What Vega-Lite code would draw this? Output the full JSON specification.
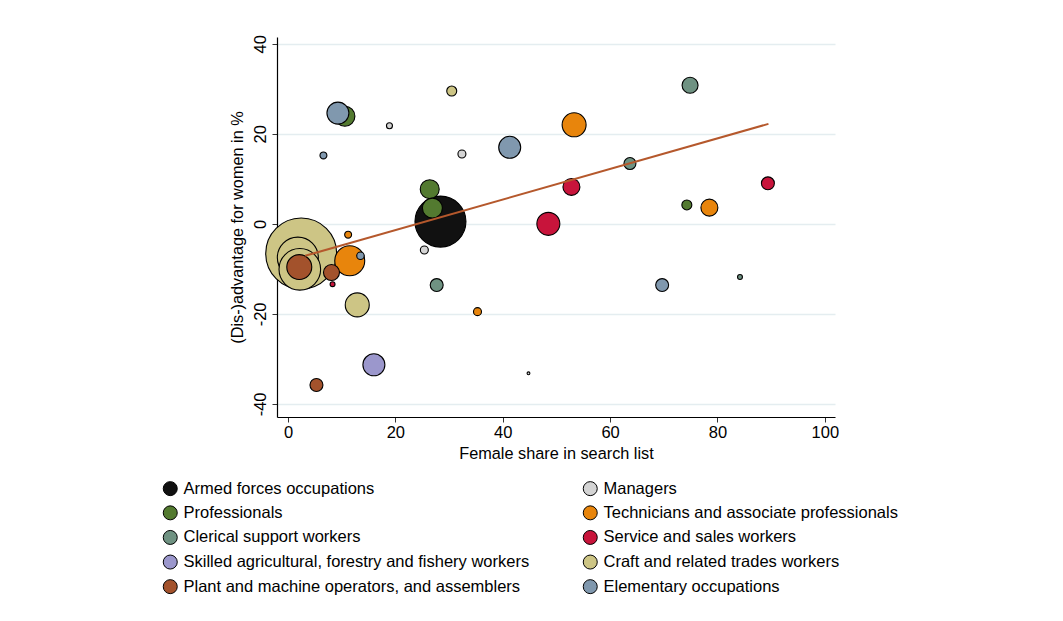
{
  "$schema": "https://vega.github.io/schema/vega-lite/v6.json",
  "autosize": {"type": "none"},
  "padding": {"left": 277, "top": 37, "right": 228, "bottom": 204},
  "width": 558,
  "height": 380,
  "background": "white",
  "config": {
    "font": "Liberation Sans",
    "view": {"stroke": null},
    "axis": {"labelFont": "Liberation Sans", "titleFont": "Liberation Sans", "labelFontSize": 16.5, "titleFontSize": 16.3, "titleFontWeight": "normal", "labelColor": "#000000", "titleColor": "#000000", "domainColor": "#000000", "tickColor": "#333333", "tickSize": 5, "domainWidth": 1.2}
  },
  "layer": [
    {
      "data": {"values": [
        {"occ": "Craft and related trades workers", "x": 2.46, "y": -6.6, "n": 1260},
        {"occ": "Armed forces occupations", "x": 28.4, "y": 0.5, "n": 650},
        {"occ": "Craft and related trades workers", "x": 1.83, "y": -7.5, "n": 420},
        {"occ": "Craft and related trades workers", "x": 2.2, "y": -10.1, "n": 433},
        {"occ": "Technicians and associate professionals", "x": 11.5, "y": -8.2, "n": 225},
        {"occ": "Craft and related trades workers", "x": 12.9, "y": -18.0, "n": 144},
        {"occ": "Plant and machine operators, and assemblers", "x": 2.1, "y": -9.6, "n": 156},
        {"occ": "Technicians and associate professionals", "x": 53.3, "y": 22.0, "n": 144},
        {"occ": "Service and sales workers", "x": 48.5, "y": 0.0, "n": 132},
        {"occ": "Skilled agricultural, forestry and fishery workers", "x": 16.0, "y": -31.3, "n": 121},
        {"occ": "Professionals", "x": 10.6, "y": 23.9, "n": 100},
        {"occ": "Elementary occupations", "x": 9.3, "y": 24.6, "n": 121},
        {"occ": "Elementary occupations", "x": 41.3, "y": 17.0, "n": 121},
        {"occ": "Professionals", "x": 26.4, "y": 7.7, "n": 90},
        {"occ": "Professionals", "x": 26.9, "y": 3.5, "n": 100},
        {"occ": "Service and sales workers", "x": 52.8, "y": 8.2, "n": 72},
        {"occ": "Technicians and associate professionals", "x": 78.5, "y": 3.6, "n": 72},
        {"occ": "Clerical support workers", "x": 74.9, "y": 30.8, "n": 64},
        {"occ": "Plant and machine operators, and assemblers", "x": 8.1, "y": -10.8, "n": 64},
        {"occ": "Clerical support workers", "x": 27.7, "y": -13.6, "n": 42},
        {"occ": "Elementary occupations", "x": 69.7, "y": -13.6, "n": 42},
        {"occ": "Service and sales workers", "x": 89.4, "y": 9.0, "n": 42},
        {"occ": "Plant and machine operators, and assemblers", "x": 5.3, "y": -35.8, "n": 42},
        {"occ": "Clerical support workers", "x": 63.7, "y": 13.4, "n": 36},
        {"occ": "Craft and related trades workers", "x": 30.5, "y": 29.5, "n": 25},
        {"occ": "Professionals", "x": 74.3, "y": 4.2, "n": 25},
        {"occ": "Managers", "x": 32.4, "y": 15.5, "n": 16},
        {"occ": "Managers", "x": 25.4, "y": -5.8, "n": 16},
        {"occ": "Technicians and associate professionals", "x": 35.3, "y": -19.5, "n": 16},
        {"occ": "Elementary occupations", "x": 13.5, "y": -7.1, "n": 14},
        {"occ": "Elementary occupations", "x": 6.6, "y": 15.2, "n": 12},
        {"occ": "Technicians and associate professionals", "x": 11.2, "y": -2.4, "n": 12},
        {"occ": "Managers", "x": 18.9, "y": 21.8, "n": 9},
        {"occ": "Service and sales workers", "x": 8.3, "y": -13.4, "n": 6},
        {"occ": "Clerical support workers", "x": 84.2, "y": -11.8, "n": 6},
        {"occ": "Managers", "x": 44.8, "y": -33.2, "n": 2}
      ]},
      "mark": {"type": "point", "shape": "circle", "filled": true, "opacity": 1, "stroke": "#000000", "strokeWidth": 1.1},
      "encoding": {
        "x": {"field": "x", "type": "quantitative", "scale": {"domain": [-2.05, 101.9], "nice": false, "zero": false},
              "axis": {"values": [0, 20, 40, 60, 80, 100], "grid": false, "title": "Female share in search list", "labelPadding": 2, "titlePadding": 5}},
        "y": {"field": "y", "type": "quantitative", "scale": {"domain": [-42.9, 41.5], "nice": false, "zero": false},
              "axis": {"values": [-40, -20, 0, 20, 40], "grid": true, "gridColor": "#e4edf0", "gridWidth": 1.5, "title": "(Dis-)advantage for women in %", "labelExpr": "toString(datum.value)", "labelAngle": -90, "labelAlign": "center", "labelBaseline": "bottom", "labelPadding": 4, "titlePadding": 7}},
        "size": {"field": "n", "type": "quantitative", "scale": {"type": "linear", "domain": [0, 1260], "range": [0, 5040], "zero": true}, "legend": null},
        "color": {"field": "occ", "type": "nominal",
          "scale": {"domain": ["Armed forces occupations", "Managers", "Professionals", "Technicians and associate professionals", "Clerical support workers", "Service and sales workers", "Skilled agricultural, forestry and fishery workers", "Craft and related trades workers", "Plant and machine operators, and assemblers", "Elementary occupations"],
                    "range": ["#111111", "#d4d4d4", "#537a30", "#e8850c", "#6f9282", "#c8143b", "#9b97cc", "#cdc585", "#a3522c", "#8098ae"]},
          "legend": {"title": null, "orient": "none", "legendX": -115, "legendY": 443, "columns": 2, "direction": "horizontal", "symbolType": "circle", "symbolSize": 196, "symbolStrokeColor": "#000000", "symbolStrokeWidth": 1, "labelFontSize": 16.5, "labelFont": "Liberation Sans", "labelColor": "#000000", "labelLimit": 600, "labelOffset": 5, "rowPadding": 5.6, "columnPadding": 51}}
      }
    },
    {
      "data": {"values": [{"x": 3.2, "y": -7.1}, {"x": 89.5, "y": 22.2}]},
      "mark": {"type": "line", "color": "#b5582c", "strokeWidth": 2},
      "encoding": {
        "x": {"field": "x", "type": "quantitative"},
        "y": {"field": "y", "type": "quantitative"}
      }
    }
  ]
}
